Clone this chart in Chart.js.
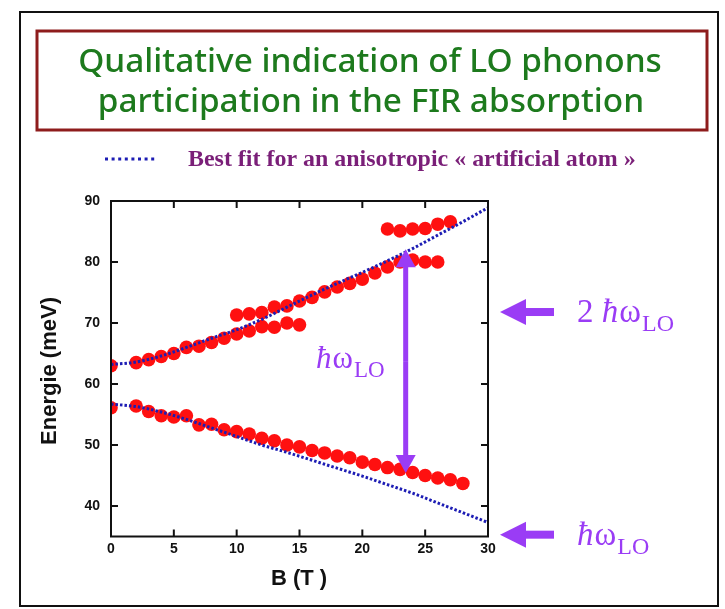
<!DOCTYPE html>
<html lang="en">
<head>
<meta charset="UTF-8" />
<title>LO phonons participation in the FIR absorption</title>
<script src="https://cdn.jsdelivr.net/npm/chart.js"></script>
<style>
  body { margin: 0; background: #fff; }
  canvas { display: block; }
</style>
</head>
<body>
<canvas id="fir" width="725" height="609"></canvas>
<script>
// measured absorption lines: magnetic field B (T) -> energy (meV)
const lowerB = [0, 2, 3, 4, 5, 6, 7, 8, 9, 10, 11, 12, 13, 14, 15, 16, 17, 18, 19, 20, 21, 22, 23, 24, 25, 26, 27, 28];
const lowerE = [56.1, 56.4, 55.5, 54.8, 54.6, 54.8, 53.3, 53.4, 52.5, 52.2, 51.8, 51.1, 50.7, 50.0, 49.7, 49.1, 48.7, 48.2, 47.9, 47.2, 46.8, 46.3, 46.0, 45.5, 45.0, 44.6, 44.3, 43.7];

const upperB = [0, 2, 3, 4, 5, 6, 7, 8, 9, 10, 11, 12, 13, 14, 15];
const upperE = [63.0, 63.5, 64.0, 64.5, 65.0, 66.0, 66.2, 66.8, 67.5, 68.2, 68.7, 69.4, 69.3, 70.0, 69.7];

const splitB = [10, 11, 12, 13, 14, 15, 16, 17, 18, 19, 20, 21];
const splitE = [71.3, 71.5, 71.7, 72.6, 72.8, 73.6, 74.2, 75.1, 75.9, 76.5, 77.2, 78.2];

const midRowB = [22, 23, 24, 25, 26];
const midRowE = [79.2, 80.0, 80.3, 80.0, 80.0];

const topRowB = [22, 23, 24, 25, 26, 27];
const topRowE = [85.4, 85.1, 85.4, 85.5, 86.2, 86.6];

// best fit curves for the anisotropic artificial atom
const fitB = [0, 2, 4, 6, 8, 10, 12, 14, 16, 18, 20, 22, 24, 26, 28, 30];
const fitUpper = [63.2, 63.6, 64.6, 66.0, 67.5, 68.9, 70.6, 72.6, 74.6, 76.5, 78.3, 80.2, 82.2, 84.4, 86.6, 88.9];
const fitLower = [56.7, 56.3, 55.4, 54.2, 52.8, 51.4, 50.0, 48.8, 47.5, 46.2, 44.9, 43.5, 42.1, 40.5, 38.9, 37.3];

const xTicks = [0, 5, 10, 15, 20, 25, 30];
const yTicks = [40, 50, 60, 70, 80, 90];

// LO phonon energy markers (meV) and the double arrow position
const hwLO = 36;
const arrowB = 23.45;
const arrowFrom = 82.1;
const arrowTo = 45.4;

const PURPLE = '#9a3cf5';
const FIT_BLUE = '#1d1db4';
const DOT_RED = '#ff1010';

const pts = (xs, ys) => xs.map((x, i) => ({ x: x, y: ys[i] }));

function dots(xs, ys) {
  return {
    data: pts(xs, ys),
    showLine: false,
    pointRadius: 6.8,
    pointBackgroundColor: DOT_RED,
    pointBorderWidth: 0,
    order: 2
  };
}

function fit(ys) {
  return {
    data: pts(fitB, ys),
    showLine: true,
    borderColor: FIT_BLUE,
    borderWidth: 3,
    borderDash: [2.5, 2],
    pointRadius: 0,
    cubicInterpolationMode: 'monotone',
    order: 1
  };
}

function fitFont(ctx, text, family, weight, width, maxSize) {
  ctx.font = weight + ' 40px ' + family;
  const size = Math.min(maxSize, 40 * width / ctx.measureText(text).width);
  ctx.font = weight + ' ' + size + 'px ' + family;
}

// writes "ħω" with a subscript LO, optional prefix like "2 "
function hbarOmega(ctx, x, y, size, prefix) {
  const serif = 'px "Liberation Serif", serif';
  ctx.textAlign = 'left';
  ctx.textBaseline = 'alphabetic';
  ctx.fillStyle = PURPLE;
  if (prefix) {
    ctx.font = size + serif;
    ctx.fillText(prefix, x, y);
    x += ctx.measureText(prefix).width;
  }
  ctx.font = 'italic ' + size + serif;
  ctx.fillText('ħ', x, y);
  x += ctx.measureText('ħ').width + 1;
  ctx.font = size + serif;
  ctx.fillText('ω', x, y);
  x += ctx.measureText('ω').width + 1;
  ctx.font = Math.round(size * 0.74) + serif;
  ctx.fillText('LO', x, y + size * 0.28);
}

// filled block arrow from (x0,y0) to the tip (x1,y1)
function blockArrow(ctx, x0, y0, x1, y1, shaft, headLen, headHalf) {
  const a = Math.atan2(y1 - y0, x1 - x0);
  const len = Math.hypot(x1 - x0, y1 - y0);
  ctx.save();
  ctx.translate(x0, y0);
  ctx.rotate(a);
  ctx.fillStyle = PURPLE;
  ctx.fillRect(0, -shaft / 2, len - headLen + 1, shaft);
  ctx.beginPath();
  ctx.moveTo(len, 0);
  ctx.lineTo(len - headLen, -headHalf);
  ctx.lineTo(len - headLen, headHalf);
  ctx.closePath();
  ctx.fill();
  ctx.restore();
}

const decor = {
  id: 'decor',
  beforeDraw(chart) {
    const ctx = chart.ctx;
    ctx.save();
    ctx.fillStyle = '#fff';
    ctx.fillRect(0, 0, chart.width, chart.height);

    // outer frame
    ctx.strokeStyle = '#111';
    ctx.lineWidth = 2;
    ctx.strokeRect(20, 12, 698, 594);

    // title box
    ctx.strokeStyle = '#8e1c1c';
    ctx.lineWidth = 3;
    ctx.strokeRect(37, 31, 670, 99);

    const family = '"Comic Sans MS", "Noto Sans", sans-serif';
    ctx.fillStyle = '#1d7a1d';
    ctx.textAlign = 'center';
    ctx.textBaseline = 'middle';
    fitFont(ctx, 'Qualitative indication of LO phonons', family, '500', 584, 34);
    ctx.fillText('Qualitative indication of LO phonons', 370, 62);
    ctx.fillText('participation in the FIR absorption', 371, 102);

    // legend line
    ctx.strokeStyle = FIT_BLUE;
    ctx.lineWidth = 3;
    ctx.setLineDash([3, 3.6]);
    ctx.beginPath();
    ctx.moveTo(105, 159);
    ctx.lineTo(156, 159);
    ctx.stroke();
    ctx.setLineDash([]);

    ctx.fillStyle = '#7a1f78';
    ctx.textAlign = 'left';
    ctx.textBaseline = 'alphabetic';
    const legendText = 'Best fit for an anisotropic « artificial atom »';
    fitFont(ctx, legendText, '"Liberation Serif", serif', 'bold', 448, 24);
    ctx.fillText(legendText, 188, 166);
    ctx.restore();
  },
  afterDatasetsDraw(chart) {
    const ctx = chart.ctx;
    const area = chart.chartArea;
    const xs = chart.scales.x;
    const ys = chart.scales.y;
    ctx.save();

    // plot frame with inward ticks on all four sides
    ctx.strokeStyle = '#111';
    ctx.lineWidth = 2;
    ctx.strokeRect(area.left, area.top, area.right - area.left, area.bottom - area.top);
    ctx.beginPath();
    xTicks.forEach(v => {
      const px = xs.getPixelForValue(v);
      ctx.moveTo(px, area.bottom);
      ctx.lineTo(px, area.bottom - 7);
      ctx.moveTo(px, area.top);
      ctx.lineTo(px, area.top + 7);
    });
    yTicks.forEach(v => {
      const py = ys.getPixelForValue(v);
      ctx.moveTo(area.left, py);
      ctx.lineTo(area.left + 7, py);
      ctx.moveTo(area.right, py);
      ctx.lineTo(area.right - 7, py);
    });
    ctx.stroke();

    // axis titles
    ctx.fillStyle = '#111';
    ctx.font = 'bold 22px "Liberation Sans", Arial, sans-serif';
    ctx.textAlign = 'center';
    ctx.textBaseline = 'middle';
    ctx.fillText('B (T )', 299, 579);
    ctx.translate(50, 371);
    ctx.rotate(-Math.PI / 2);
    ctx.fillText('Energie (meV)', 0, 0);
    ctx.restore();

    ctx.save();
    // ħω_LO double arrow between the two branches
    const ax = xs.getPixelForValue(arrowB);
    const y1 = ys.getPixelForValue(arrowFrom);
    const y2 = ys.getPixelForValue(arrowTo);
    const mid = (y1 + y2) / 2;
    blockArrow(ctx, ax, mid, ax, y1, 5, 18, 10);
    blockArrow(ctx, ax, mid, ax, y2, 5, 18, 10);
    hbarOmega(ctx, 316, 368, 31, '');

    // markers for 2ħω_LO and ħω_LO
    const y2lo = ys.getPixelForValue(2 * hwLO - 0.2);
    const y1lo = ys.getPixelForValue(hwLO - 0.7);
    blockArrow(ctx, 554, y2lo, 500, y2lo, 8, 26, 13);
    blockArrow(ctx, 554, y1lo, 500, y1lo, 8, 26, 13);
    hbarOmega(ctx, 577, y2lo + 10, 33, '2 ');
    hbarOmega(ctx, 577, y1lo + 10, 33, '');
    ctx.restore();
  }
};

new Chart(document.getElementById('fir'), {
  type: 'scatter',
  data: {
    datasets: [
      fit(fitUpper),
      fit(fitLower),
      dots(upperB, upperE),
      dots(splitB, splitE),
      dots(midRowB, midRowE),
      dots(topRowB, topRowE),
      dots(lowerB, lowerE)
    ]
  },
  options: {
    responsive: false,
    animation: false,
    events: [],
    layout: { padding: { left: 0, top: 201, right: 237, bottom: 0 } },
    plugins: {
      legend: { display: false },
      tooltip: { enabled: false }
    },
    scales: {
      x: {
        type: 'linear',
        min: 0,
        max: 30,
        grid: { display: false, drawTicks: false },
        border: { display: false },
        afterBuildTicks: s => { s.ticks = xTicks.map(v => ({ value: v })); },
        afterFit: s => { s.height = 72.5; },
        ticks: {
          padding: 4,
          color: '#111',
          font: { family: '"Liberation Sans", Arial, sans-serif', size: 14, weight: 'bold' }
        }
      },
      y: {
        type: 'linear',
        min: 35,
        max: 90,
        grid: { display: false, drawTicks: false },
        border: { display: false },
        afterBuildTicks: s => { s.ticks = yTicks.map(v => ({ value: v })); },
        afterFit: s => { s.width = 111; },
        ticks: {
          padding: 11,
          color: '#111',
          font: { family: '"Liberation Sans", Arial, sans-serif', size: 14, weight: 'bold' }
        }
      }
    }
  },
  plugins: [decor]
});
</script>
</body>
</html>
